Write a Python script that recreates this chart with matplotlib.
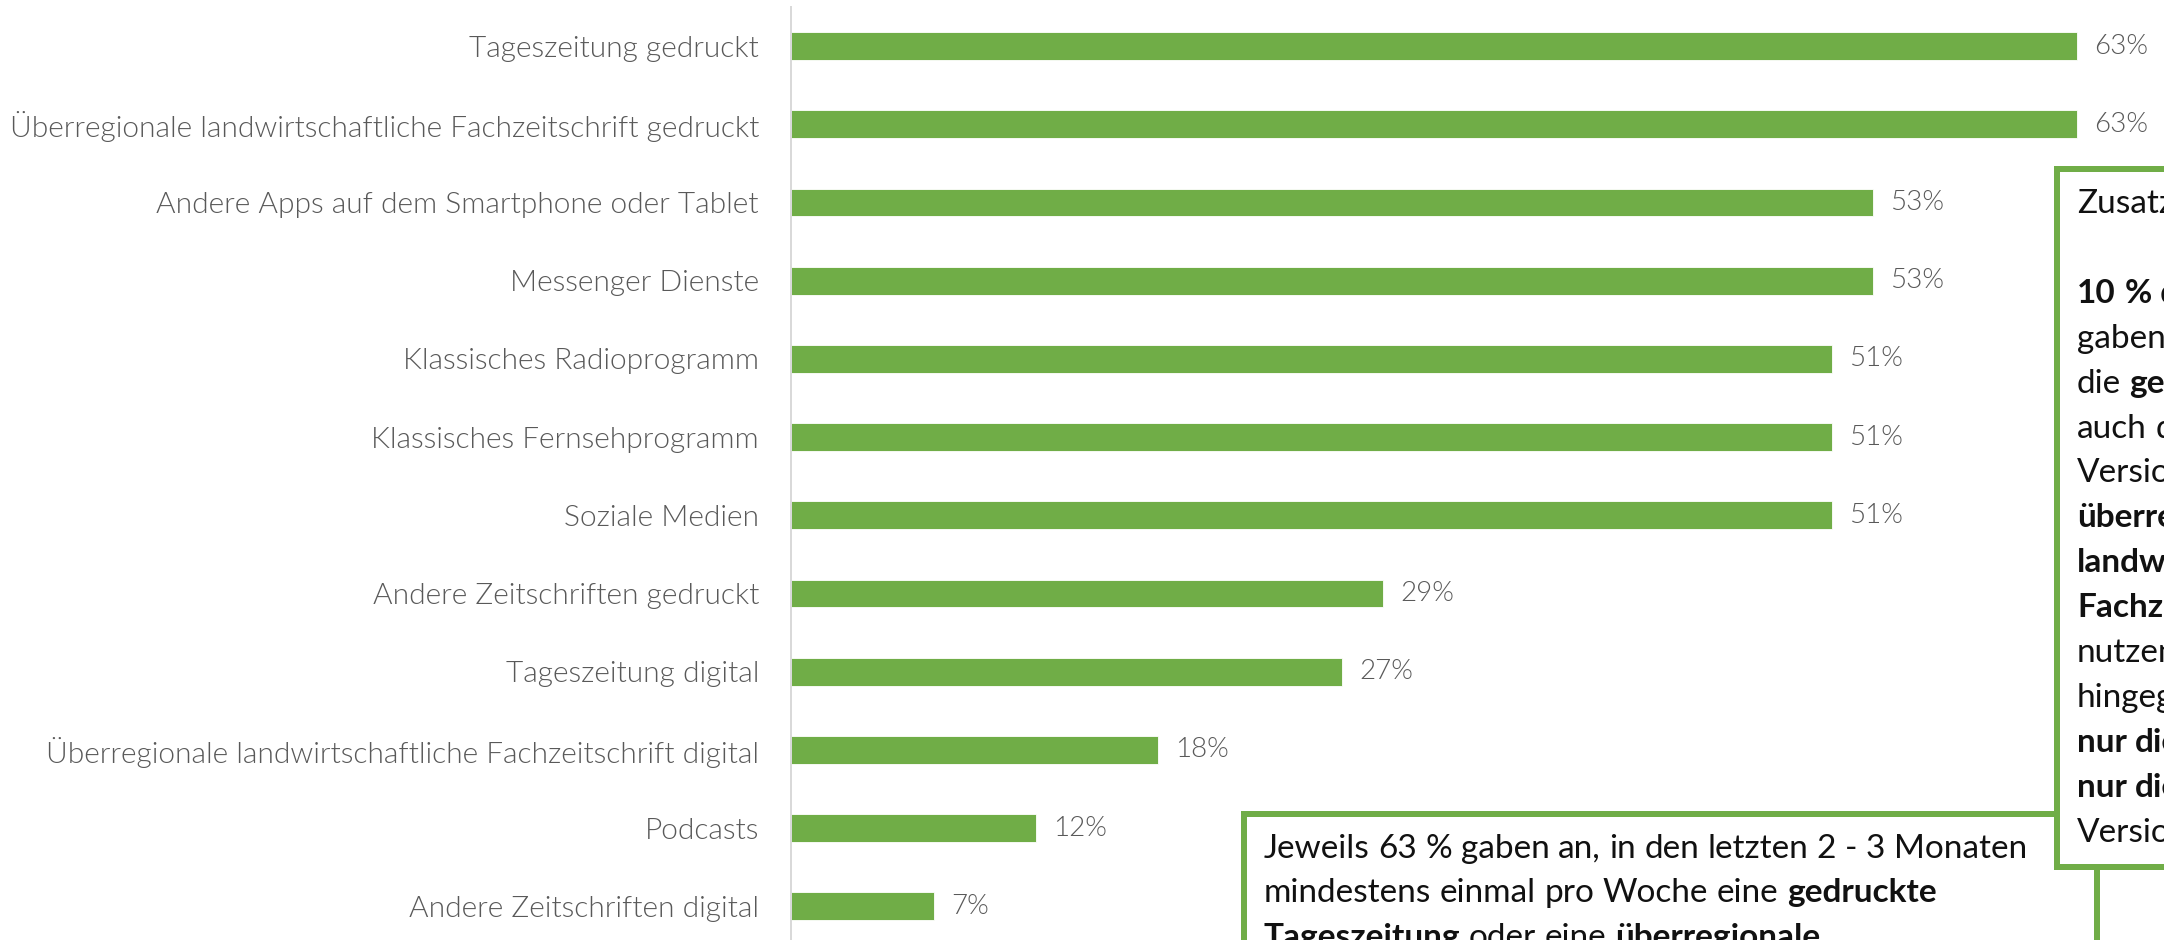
import matplotlib
matplotlib.use("Agg")
import matplotlib.pyplot as plt
import matplotlib.patches as patches

# ---- data -------------------------------------------------------------
categories = [
    "Tageszeitung gedruckt",
    "Überregionale landwirtschaftliche Fachzeitschrift gedruckt",
    "Andere Apps auf dem Smartphone oder Tablet",
    "Messenger Dienste",
    "Klassisches Radioprogramm",
    "Klassisches Fernsehprogramm",
    "Soziale Medien",
    "Andere Zeitschriften gedruckt",
    "Tageszeitung digital",
    "Überregionale landwirtschaftliche Fachzeitschrift digital",
    "Podcasts",
    "Andere Zeitschriften digital",
]
values = [63, 63, 53, 53, 51, 51, 51, 29, 27, 18, 12, 7]

# note boxes: each line is a list of (text, bold) segments
note_side = [
    [("Zusatzinformation:", False)],
    [],
    [("10 %", True), ("der Befragten", False)],
    [("gaben an, sowohl", False)],
    [("die", False), ("gedruckte", True), ("als", False)],
    [("auch die digitale", False)],
    [("Version einer", False)],
    [("überregionalen", True)],
    [("landwirtschaftlichen", True)],
    [("Fachzeitschrift", True), ("zu", False)],
    [("nutzen. 8 % nutzen", False)],
    [("hingegen", False)],
    [("nur die gedruckte,", True)],
    [("nur die digitale", True)],
    [("Version.", False)],
]
note_bottom = [
    [("Jeweils 63 % gaben an, in den letzten 2 - 3 Monaten", False)],
    [("mindestens einmal pro Woche eine", False), ("gedruckte", True)],
    [("Tageszeitung", True), ("oder eine", False), ("überregionale", True)],
]

# ---- styling ----------------------------------------------------------
W, H, DPI = 2164, 940, 100
GREEN = "#70AD47"
LABEL_GREY = "#595959"
PX = 72.0 / DPI  # points per pixel

fig = plt.figure(figsize=(W / DPI, H / DPI), dpi=DPI)
fig.patch.set_facecolor("white")


def fx(x):
    return x / W


def fy(y):
    return 1 - y / H


# axes: category band of 78.2 px, 1 % = 20.41 px
ax_left, ax_top, band = 791, 7, 78.2
ax_bottom = ax_top + band * len(categories)
ax = fig.add_axes([fx(ax_left), fy(ax_bottom), (W - ax_left) / W,
                   (ax_bottom - ax_top) / H])
ax.set_xlim(0, (W - ax_left) / 20.41)
ax.set_ylim(len(categories) - 0.5, -0.5)

ypos = list(range(len(categories)))
ax.barh(ypos, values, height=0.355, color=GREEN, edgecolor="white",
        linewidth=0.6, zorder=2)

label_font = dict(family=["Lato", "DejaVu Sans"], weight=300)
for y, v in zip(ypos, values):
    ax.annotate(f"{v}%", xy=(v, y), xytext=(17 * PX, 0),
                textcoords="offset points", va="center", ha="left",
                fontsize=20, color=LABEL_GREY, **label_font)

ax.set_yticks(ypos)
ax.set_yticklabels(categories, fontsize=21.5, color=LABEL_GREY, **label_font)
ax.tick_params(axis="y", length=0, pad=32 * PX)
ax.set_xticks([])
for side in ("top", "right", "bottom"):
    ax.spines[side].set_visible(False)
ax.spines["left"].set_color("#D9D9D9")
ax.spines["left"].set_linewidth(2 * PX)

# ---- note boxes -------------------------------------------------------
box_lw = 6 * PX
bottom_box = patches.Rectangle((fx(1244), fy(980)), (2097 - 1244) / W,
                               (980 - 814) / H, transform=fig.transFigure,
                               facecolor="white", edgecolor=GREEN,
                               linewidth=box_lw, zorder=3, clip_on=False)
side_box = patches.Rectangle((fx(2057), fy(867)), (2220 - 2057) / W,
                             (867 - 169) / H, transform=fig.transFigure,
                             facecolor="white", edgecolor=GREEN,
                             linewidth=box_lw, zorder=5, clip_on=False)
fig.add_artist(bottom_box)
fig.add_artist(side_box)

renderer = fig.canvas.get_renderer()
NOTE_SIZE = 24
note_family = ["Lato", "DejaVu Sans"]


def text_width(s, bold):
    t = fig.text(0, 0, s, fontsize=NOTE_SIZE, family=note_family,
                 weight="bold" if bold else "normal")
    w = t.get_window_extent(renderer).width
    t.remove()
    return w


space_w = text_width("n n", False) - text_width("nn", False)


def draw_note(lines, x0, y0, step, z):
    for k, line in enumerate(lines):
        x = x0
        base = y0 + k * step
        for seg, bold in line:
            for word in seg.split(" "):
                if x < W:
                    fig.text(fx(x), fy(base), word, fontsize=NOTE_SIZE,
                             family=note_family,
                             weight="bold" if bold else "normal",
                             color="#111111", ha="left", va="baseline",
                             zorder=z)
                x += text_width(word, bold) + space_w


draw_note(note_bottom, 1264, 858, 44.3, 4)
draw_note(note_side, 2077, 213, 44.9, 6)

fig.savefig("out.png", dpi=DPI, facecolor="white")
